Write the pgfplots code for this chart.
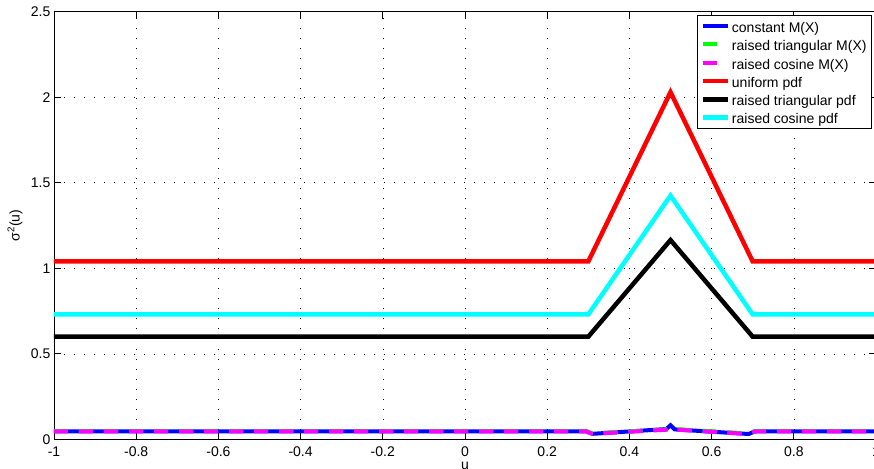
\documentclass[border=0pt]{standalone}
\usepackage{fontspec}
\setmainfont{Liberation Sans}
\usepackage{pgfplots}
\pgfplotsset{compat=1.18}
\definecolor{mblue}{rgb}{0,0,1}
\definecolor{mgreen}{rgb}{0,1,0}
\definecolor{mmagenta}{rgb}{1,0,1}
\definecolor{mred}{rgb}{1,0,0}
\definecolor{mcyan}{rgb}{0,1,1}

\begin{document}
\fontsize{14}{16}\selectfont
\begin{tikzpicture}
\begin{axis}[
    name=ax,
    scale only axis,
    width=822pt, height=427.5pt,
    xmin=-1, xmax=1, ymin=0, ymax=2.5,
    xtick={-1,-0.8,-0.6,-0.4,-0.2,0,0.2,0.4,0.6,0.8,1},
    ytick={0,0.5,1,1.5,2,2.5},
    grid=major,
    grid style={black, line width=0.6pt, dash pattern=on 0.8pt off 9.2pt},
    axis line style={line width=0.9pt},
    tick style={black, line width=0.9pt},
    tick align=inside, major tick length=7pt,
    /pgf/number format/assume math mode=true,
    ticklabel style={font=\fontsize{14}{16}\selectfont},
    x tick label style={inner sep=0pt, yshift=-7.5pt},
    y tick label style={inner xsep=3.5pt},
    xlabel={u},
    x label style={at={(axis description cs:0.5,0)}, anchor=north, inner sep=0pt, yshift=-22.4pt},
    ylabel={σ\textsuperscript{2}(u)},
    y label style={at={(axis description cs:-0.0474,0.5)}, anchor=center},
    legend cell align=left,
    legend image code/.code={\draw[#1] (0pt,0pt) -- (25pt,0pt);},
    legend style={at={(1,1)}, anchor=north east, xshift=-4pt, yshift=-3.2pt,
        draw=black, line width=0.9pt, fill=white,
        font=\fontsize{14}{16}\selectfont,
        inner xsep=3pt, inner ysep=1.6pt,
        nodes={inner xsep=2pt, inner ysep=0pt, text height=15.4pt, text depth=2.9pt}},
]
\addplot[color=mblue, line width=4pt] coordinates {
    (-1,0.046)(0.295,0.046)(0.31,0.032)(0.49,0.06)(0.5,0.082)(0.51,0.058)(0.69,0.031)(0.705,0.046)(1,0.046)
};
\addlegendentry{constant M(X)}
\addplot[color=mgreen, line width=4pt, dash pattern=on 14pt off 11pt] coordinates {
    (-1,0.049)(0.295,0.049)(0.31,0.035)(0.49,0.058)(0.5,0.07)(0.51,0.06)(0.69,0.034)(0.705,0.049)(1,0.049)
};
\addlegendentry{raised triangular M(X)}
\addplot[color=mmagenta, line width=4pt, dash pattern=on 14pt off 11pt] coordinates {
    (-1,0.046)(0.295,0.046)(0.31,0.032)(0.49,0.056)(0.5,0.066)(0.51,0.057)(0.69,0.031)(0.705,0.046)(1,0.046)
};
\addlegendentry{raised cosine M(X)}
\addplot[color=mred, line width=4.5pt] coordinates {
    (-1,1.04)(0.3,1.04)(0.5,2.03)(0.7,1.04)(1,1.04)
};
\addlegendentry{uniform pdf}
\addplot[color=black, line width=4.5pt] coordinates {
    (-1,0.6)(0.3,0.6)(0.5,1.165)(0.7,0.6)(1,0.6)
};
\addlegendentry{raised triangular pdf}
\addplot[color=mcyan, line width=4.5pt] coordinates {
    (-1,0.73)(0.3,0.73)(0.5,1.425)(0.7,0.73)(1,0.73)
};
\addlegendentry{raised cosine pdf}
\end{axis}
\pgfresetboundingbox
\path[use as bounding box] ([xshift=-54pt,yshift=-28.7pt]ax.south west)
    rectangle ([xshift=-2pt,yshift=11.8pt]ax.north east);
\end{tikzpicture}
\end{document}
